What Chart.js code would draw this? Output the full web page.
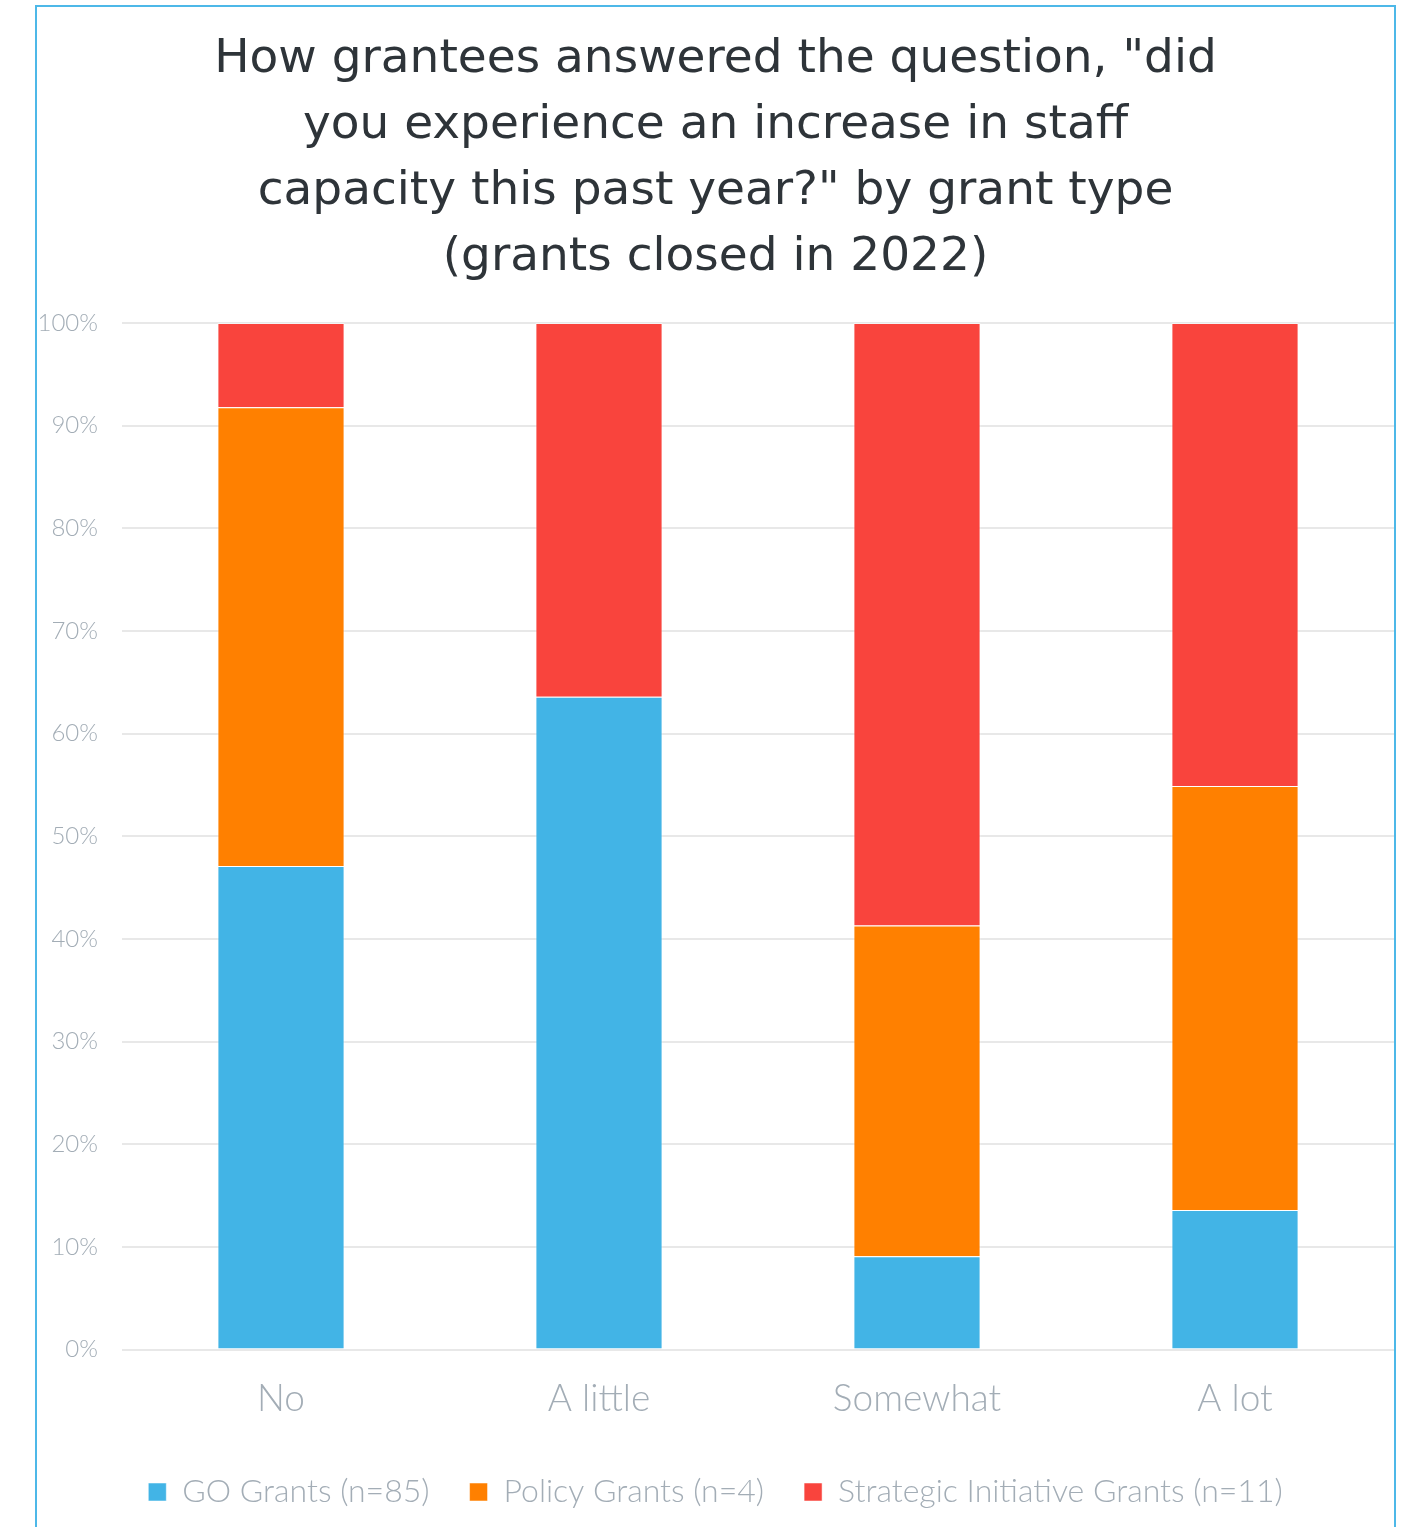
<!DOCTYPE html>
<html>
<head>
<meta charset="utf-8">
<script src="https://cdn.jsdelivr.net/npm/chart.js@4"></script>
<style>
  body { margin: 0; background: #fff; }
  #box {
    position: absolute; left: 35px; top: 5px;
    width: 1357px; height: 1540px;
    border: 2px solid #4db8e8;
    background: #fff;
  }
  #chart { display: block; }
</style>
</head>
<body>
<div id="box"><canvas id="chart" width="1357" height="1520"></canvas></div>
<script>
var categories = ['No', 'A little', 'Somewhat', 'A lot'];
var goGrants = [47.1, 63.6, 9.1, 13.6];
var policyGrants = [44.7, 0, 32.2, 41.3];
var strategicGrants = [8.2, 36.4, 58.7, 45.1];
var seriesLabels = ['GO Grants (n=85)', 'Policy Grants (n=4)', 'Strategic Initiative Grants (n=11)'];
var yTicks = [0, 10, 20, 30, 40, 50, 60, 70, 80, 90, 100];

var titleLines = [
  'How grantees answered the question, "did',
  'you experience an increase in staff',
  'capacity this past year?" by grant type',
  '(grants closed in 2022)'
];

var grey = '#a3adb6';

var ctx = document.getElementById('chart').getContext('2d');
var chart = new Chart(ctx, {
  type: 'bar',
  data: {
    labels: categories,
    datasets: [
      { label: seriesLabels[0], data: goGrants, backgroundColor: '#42b4e6' },
      { label: seriesLabels[1], data: policyGrants, backgroundColor: '#ff8000' },
      { label: seriesLabels[2], data: strategicGrants, backgroundColor: '#f9443d' }
    ].map(function(ds) {
      ds.borderColor = 'rgba(255,255,255,0.5)';
      ds.borderWidth = 1;
      ds.barPercentage = 0.4;
      ds.categoryPercentage = 1;
      return ds;
    })
  },
  options: {
    responsive: false,
    animation: false,
    layout: { padding: { left: 0, right: 0, top: 20, bottom: 9 } },
    plugins: {
      title: {
        display: true,
        text: titleLines,
        color: '#2e3439',
        font: { family: 'DejaVu Sans', size: 47, weight: '400', lineHeight: 66 / 47 },
        padding: { top: 0, bottom: 32 }
      },
      legend: {
        position: 'bottom',
        labels: {
          color: grey,
          boxWidth: 18,
          boxHeight: 18,
          padding: 40,
          font: { family: 'Lato', size: 32, weight: '300' }
        }
      },
      tooltip: { enabled: false }
    },
    scales: {
      x: {
        stacked: true,
        grid: { display: false },
        border: { display: false },
        // pull the legend a little closer to the category labels
        afterFit: function(axis) { axis.height -= 4; },
        ticks: {
          color: grey,
          padding: 19,
          font: { family: 'Lato', size: 37, weight: '300' }
        }
      },
      y: {
        stacked: true,
        min: 0,
        max: 100,
        afterBuildTicks: function(axis) {
          axis.ticks = yTicks.map(function(v) { return { value: v }; });
        },
        afterFit: function(axis) { axis.width = 85; },
        grid: { color: '#e8e8e8', lineWidth: 2, drawTicks: false },
        border: { display: false },
        ticks: {
          color: grey,
          padding: 24,
          font: { family: 'Lato', size: 24, weight: '300' },
          callback: function(v) { return v + '%'; }
        }
      }
    }
  }
});
</script>
</body>
</html>
